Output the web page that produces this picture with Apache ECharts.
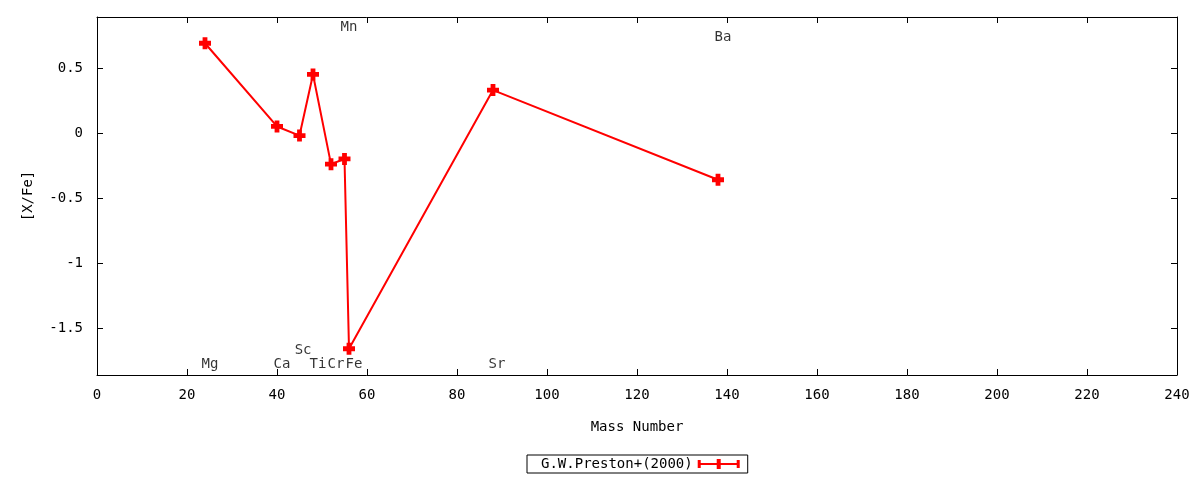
<!DOCTYPE html>
<html>
<head>
<meta charset="utf-8">
<script src="https://cdn.jsdelivr.net/npm/echarts@6/dist/echarts.min.js"></script>
<style>
  html, body { margin: 0; padding: 0; background: #fff; }
  #chart { width: 1200px; height: 480px; }
</style>
</head>
<body>
<div id="chart"></div>
<script>
// element data: mass number vs [X/Fe]
const elements = ['Mg', 'Ca', 'Sc', 'Ti', 'Cr', 'Mn', 'Fe', 'Sr', 'Ba'];
const massNumbers = [24, 40, 45, 48, 52, 55, 56, 88, 138];
const xFe = [0.69, 0.05, -0.02, 0.45, -0.24, -0.20, -1.66, 0.33, -0.36];

// element name labels (placed in data coordinates)
const labelX = [25.1, 41.1, 45.8, 49.1, 53.1, 56.0, 57.1, 88.9, 139.1];
const labelY = [-1.78, -1.78, -1.67, -1.78, -1.78, 0.81, -1.78, -1.78, 0.732];

const seriesName = 'G.W.Preston+(2000)';
const font = 'DejaVu Sans Mono';
const fontSize = 14;

const chart = echarts.init(document.getElementById('chart'));

const plusIcon = 'path://M3,0H7V3H10V7H7V10H3V7H0V3H3Z';
const legendIcon = 'path://M0,4H42V6H0Z M0,1H3V9H0Z M39,1H42V9H39Z M19,0H23V10H19Z';

const tickStyle = { show: true, inside: true, length: 6, lineStyle: { color: '#000', width: 1 } };
const lineStyle = { show: true, onZero: false, lineStyle: { color: '#000', width: 1 } };
const labelStyle = { color: '#000', fontFamily: font, fontSize: fontSize };

chart.setOption({
  animation: false,
  backgroundColor: '#fff',
  grid: { left: 97, right: 23, top: 17, bottom: 105 },
  legend: {
    left: 527, top: 455,
    align: 'right',
    padding: [2, 8, 2, 14],
    borderColor: '#000', borderWidth: 1, borderRadius: 0,
    itemWidth: 42, itemHeight: 10,
    icon: legendIcon,
    textStyle: { color: '#000', fontFamily: font, fontSize: fontSize },
    data: [seriesName]
  },
  xAxis: [{
    type: 'value', min: 0, max: 240, interval: 20,
    name: 'Mass Number', nameLocation: 'middle', nameGap: 45,
    nameTextStyle: labelStyle,
    axisLine: lineStyle, axisTick: tickStyle,
    axisLabel: Object.assign({ margin: 13 }, labelStyle),
    splitLine: { show: false }
  }, {
    type: 'value', min: 0, max: 240, interval: 20, position: 'top',
    axisLine: lineStyle, axisTick: tickStyle,
    axisLabel: { show: false }, splitLine: { show: false }
  }],
  yAxis: [{
    type: 'value', min: -1.862, max: 0.892, splitNumber: 5,
    name: '[X/Fe]', nameLocation: 'middle', nameGap: 62, nameRotate: 90,
    nameTextStyle: labelStyle,
    axisLine: lineStyle, axisTick: tickStyle,
    axisLabel: Object.assign({ margin: 14, showMinLabel: false, showMaxLabel: false }, labelStyle),
    splitLine: { show: false }
  }, {
    type: 'value', min: -1.862, max: 0.892, splitNumber: 5, position: 'right',
    axisLine: lineStyle, axisTick: tickStyle,
    axisLabel: { show: false }, splitLine: { show: false }
  }],
  series: [{
    name: seriesName,
    type: 'line',
    data: massNumbers.map((m, i) => [m, xFe[i]]),
    symbol: plusIcon,
    symbolSize: 12,
    showAllSymbol: true,
    color: '#ff0000',
    lineStyle: { color: '#ff0000', width: 2 },
    itemStyle: { color: '#ff0000' }
  }, {
    name: 'labels',
    type: 'scatter',
    silent: true,
    symbolSize: 1,
    itemStyle: { color: 'rgba(0,0,0,0)' },
    data: elements.map((e, i) => ({ name: e, value: [labelX[i], labelY[i]] })),
    label: {
      show: true, position: 'inside', formatter: p => p.name,
      color: '#000', fontFamily: font, fontSize: fontSize
    }
  }]
});
</script>
</body>
</html>
